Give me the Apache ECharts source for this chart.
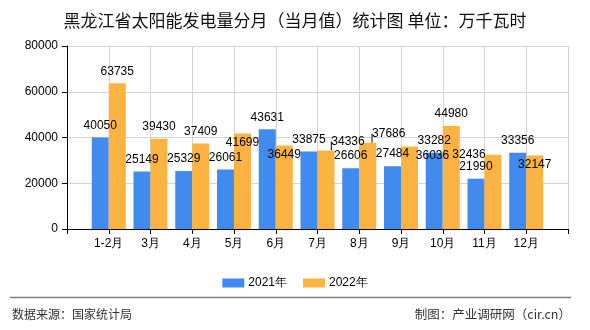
<!DOCTYPE html>
<html>
<head>
<meta charset="utf-8">
<script src="https://cdn.jsdelivr.net/npm/echarts@6/dist/echarts.min.js"></script>
<style>
html,body{margin:0;padding:0;background:#fff;}
#c{width:590px;height:330px;}
</style>
</head>
<body>
<div id="c"></div>
<script>
var categories = ['1-2月','3月','4月','5月','6月','7月','8月','9月','10月','11月','12月'];
var values2021 = [40050,25149,25329,26061,43631,33875,26606,27484,33282,21990,33356];
var values2022 = [63735,39430,37409,41699,36449,34336,37686,36036,44980,32436,32147];
var yTicks = [0,20000,40000,60000,80000];
var seriesNames = ['2021年','2022年'];

// label displacement for the 2022 series (style only)
var shift2022 = {3:[0,21],4:[0,21],5:[22,3],6:[21,3],7:[23,21],9:[-24,12],10:[0,21]};
var guide2022 = {5:true,6:true,7:true};

var cats = [''].concat(categories).concat(['']);
function pad(arr){ return ['-'].concat(arr).concat(['-']); }
var d2022 = pad(values2022).map(function(v,i){
  if (guide2022[i-1]) return {value:v, labelLine:{show:true}};
  return v;
});

var chart = echarts.init(document.getElementById('c'));
var font = 'Liberation Sans, Arial, sans-serif';
chart.setOption({
  animation:false,
  title:{
    text:'黑龙江省太阳能发电量分月（当月值）统计图 单位：万千瓦时',
    left:'center', top:7,
    textStyle:{fontSize:17,fontWeight:'normal',color:'#111',fontFamily:'Noto Sans CJK SC'}
  },
  legend:{
    data:seriesNames, top:272, left:'center',
    itemWidth:22, itemHeight:9, itemGap:16,
    textStyle:{fontSize:12,color:'#000',fontFamily:font,padding:[0,0,0,-1]},
    icon:'rect'
  },
  grid:{left:67,right:22,top:46,bottom:101},
  xAxis:{
    type:'category', data:cats, boundaryGap:false,
    axisLine:{lineStyle:{color:'#000'}},
    axisTick:{show:true,length:5,lineStyle:{color:'#000'}},
    axisLabel:{color:'#000',fontSize:12,fontFamily:font,margin:9,interval:0},
    splitLine:{show:true,lineStyle:{color:'#d4d4d4'}}
  },
  yAxis:{
    type:'value', min:yTicks[0], max:yTicks[yTicks.length-1], interval:20000,
    axisLine:{show:true,lineStyle:{color:'#000'}},
    axisTick:{show:true,length:5,lineStyle:{color:'#000'}},
    axisLabel:{color:'#000',fontSize:12,fontFamily:font,margin:9,formatter:function(v){return String(v);}},
    splitLine:{show:true,lineStyle:{color:'#d4d4d4'}}
  },
  series:[
    {
      name:seriesNames[0], type:'bar', data:pad(values2021), barWidth:17, barGap:'0%',
      itemStyle:{color:'#418bee'},
      label:{show:true,position:'top',color:'#000',fontSize:12,fontFamily:font,distance:6}
    },
    {
      name:seriesNames[1], type:'bar', data:d2022, barWidth:17, barGap:'0%',
      itemStyle:{color:'#fbb342'},
      label:{show:true,position:'top',color:'#000',fontSize:12,fontFamily:font,distance:6},
      labelLine:{show:false,lineStyle:{color:'#000',width:1}},
      labelLayout:function(p){
        var s = shift2022[p.dataIndex-1];
        if (!s) return {};
        return {dx:s[0],dy:s[1]};
      }
    }
  ],
  graphic:[
    {type:'line',shape:{x1:10,y1:297.5,x2:571,y2:297.5},style:{stroke:'#808080',lineWidth:1.5}},
    {type:'text',left:12,top:308,style:{text:'数据来源：国家统计局',fontSize:12,fill:'#333',fontFamily:'Noto Sans CJK SC'}},
    {type:'text',right:19,top:308,style:{text:'制图：产业调研网（cir.cn）',fontSize:12.5,fill:'#333',fontFamily:'Noto Sans CJK SC'}}
  ]
});
</script>
</body>
</html>
